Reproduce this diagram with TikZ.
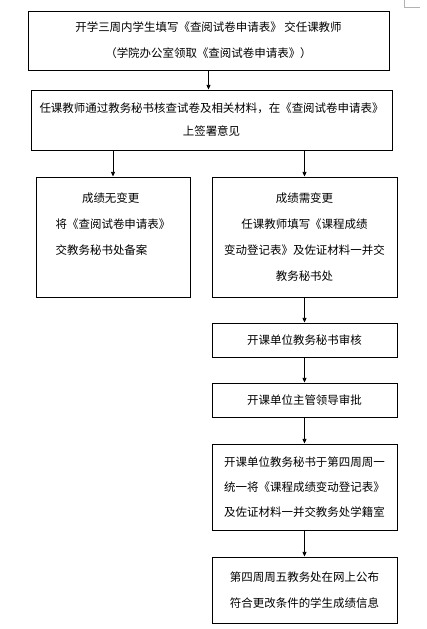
\documentclass[tikz,border=0pt]{standalone}
\usepackage{fontspec}
\setmainfont{Noto Sans CJK SC}
\usepackage{xcolor}
\usetikzlibrary{positioning,arrows.meta}

\begin{document}
\begin{tikzpicture}[x=0.75pt, y=-0.75pt,
    box/.style={draw, line width=0.7pt, inner sep=0pt, align=center,
      font=\fontsize{8.6pt}{19.5pt}\selectfont},
    arr/.style={line width=0.6pt, -{Triangle[length=3.5pt,width=3pt]}}]
  \useasboundingbox (0,0) rectangle (427,629);
  % corner mark
  \draw[gray!60, line width=0.6pt] (404,0) -- (404,7) -- (420,7);
  % boxes
  \node[box, minimum width=270.75pt, minimum height=44.25pt] (apply) at (208.5,40.5)
    {开学三周内学生填写《查阅试卷申请表》 交任课教师\\（学院办公室领取《查阅试卷申请表》）};
  \node[box, minimum width=270.75pt, minimum height=45pt,
    font=\fontsize{8.6pt}{17.25pt}\selectfont] (check) at (211.5,120)
    {任课教师通过教务秘书核查试卷及相关材料，在《查阅试卷申请表》\\上签署意见};
  \node[box, align=left, minimum width=115.5pt, minimum height=90pt] (same) at (113,237)
    {\hspace*{2.3em}成绩无变更\\将《查阅试卷申请表》\\交教务秘书处备案\\ \mbox{}};
  \node[box, minimum width=138.75pt, minimum height=90pt] (change) at (304.5,237)
    {成绩需变更\\任课教师填写《课程成绩\\变动登记表》及佐证材料一并交\\教务秘书处};
  \node[box, minimum width=138.75pt, minimum height=25.5pt] (audit) at (304.5,340)
    {开课单位教务秘书审核};
  \node[box, minimum width=138.75pt, minimum height=25.5pt] (approve) at (304.5,400)
    {开课单位主管领导审批};
  \node[box, minimum width=138.75pt, minimum height=64.5pt,
    font=\fontsize{8.6pt}{18.75pt}\selectfont] (submit) at (304.5,487)
    {开课单位教务秘书于第四周周一\\统一将《课程成绩变动登记表》\\及佐证材料一并交教务处学籍室};
  \node[box, minimum width=138.75pt, minimum height=49.5pt] (publish) at (304.5,590)
    {第四周周五教务处在网上公布\\符合更改条件的学生成绩信息};
  % arrows
  \draw[arr] (apply) -- (check.north -| apply);
  \draw[arr] (check.south -| same) -- (same);
  \draw[arr] (check.south -| change) -- (change);
  \draw[arr] (change) -- (audit);
  \draw[arr] (audit) -- (approve);
  \draw[arr] (approve) -- (submit);
  \draw[arr] (submit) -- (publish);
\end{tikzpicture}
\end{document}
